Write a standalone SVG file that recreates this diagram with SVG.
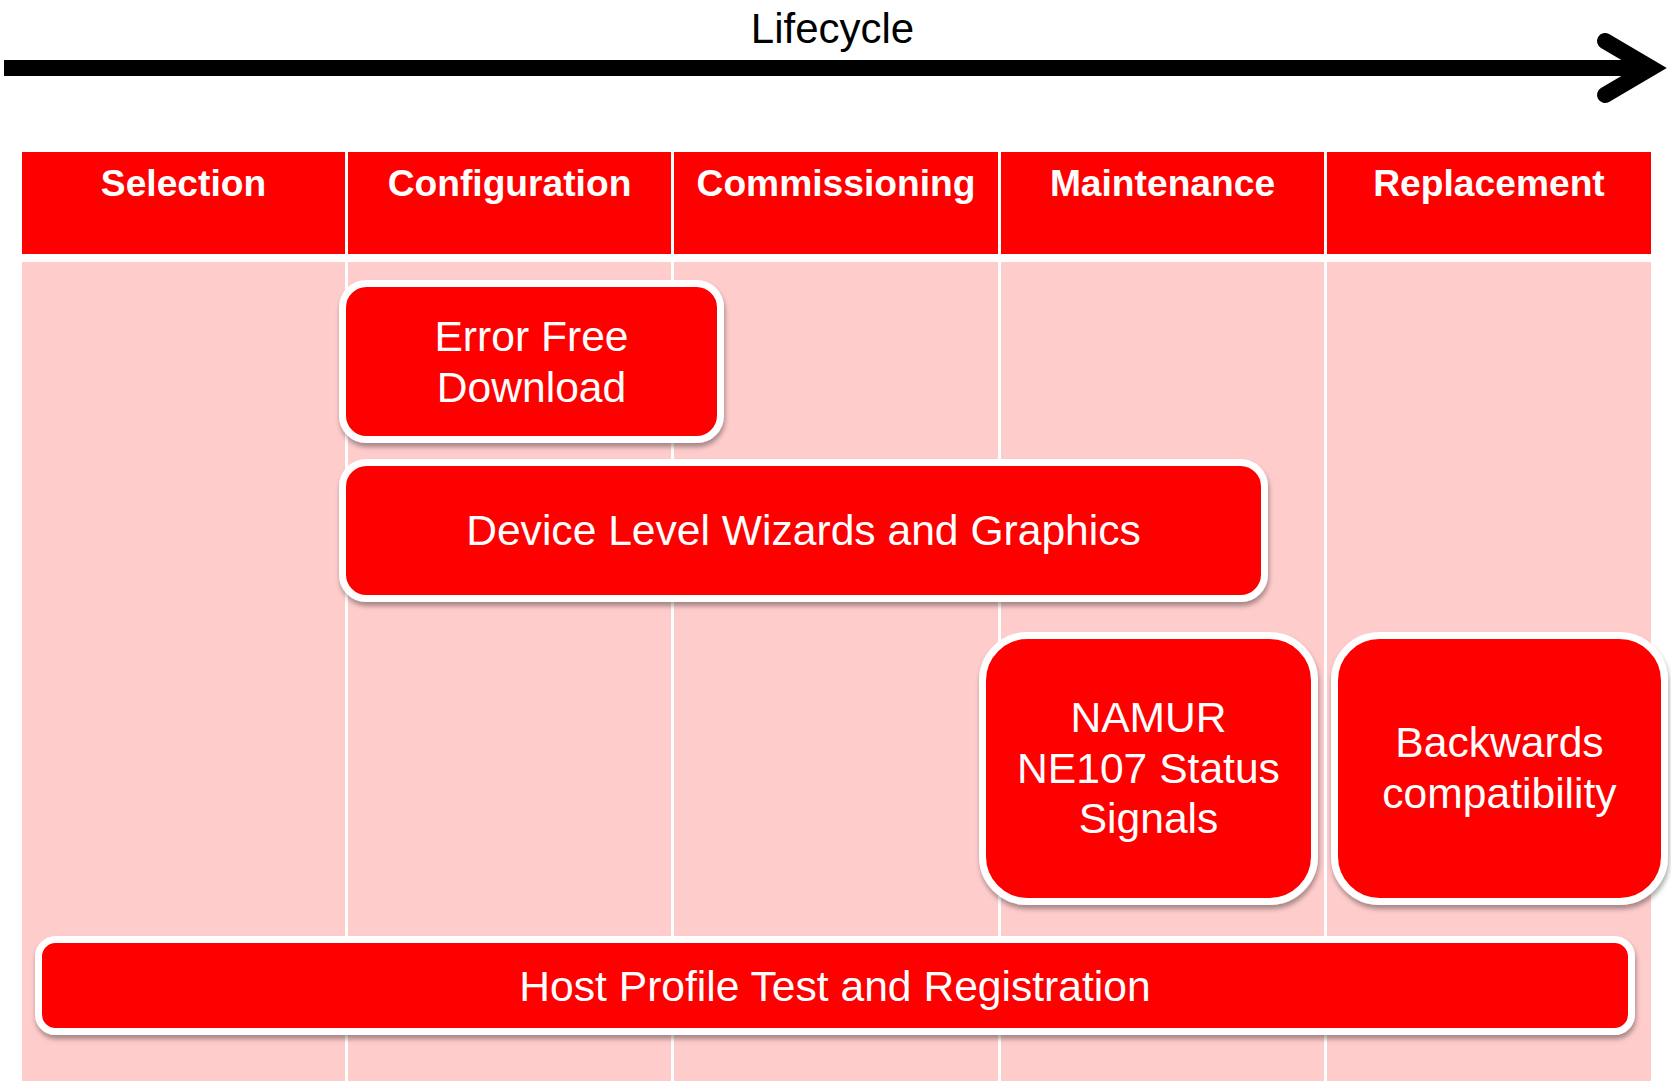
<svg xmlns="http://www.w3.org/2000/svg" width="1671" height="1081" viewBox="0 0 1671 1081">
  <style>
    .hdr { fill: #FF0000; }
    .lane { fill: #FFCCCC; }
    .hdrText { font-family: "Liberation Sans", Arial, sans-serif; font-weight: bold; font-size: 37.2px; fill: #FFFFFF; text-anchor: middle; }
    .box { fill: #FF0000; stroke: #FFFFFF; stroke-width: 7; filter: url(#shadow); }
    .boxText { font-family: "Liberation Sans", Arial, sans-serif; font-size: 42.6px; fill: #FFFFFF; text-anchor: middle; }
    .title { font-family: "Liberation Sans", Arial, sans-serif; font-size: 42px; fill: #000000; text-anchor: middle; }
  </style>
  <defs>
    <filter id="shadow" x="-10%" y="-20%" width="120%" height="150%">
      <feDropShadow dx="1" dy="4" stdDeviation="2.5" flood-color="#000000" flood-opacity="0.35"/>
    </filter>
  </defs>
  <rect x="0" y="0" width="1671" height="1081" fill="#FFFFFF"/>

  <g id="lifecycle-axis">
    <text class="title" x="832.5" y="43">Lifecycle</text>
    <line x1="4" y1="68" x2="1651" y2="68" stroke="#000000" stroke-width="16"/>
    <polyline points="1605,41 1651,68 1605,95" fill="none" stroke="#000000" stroke-width="16" stroke-linecap="round" stroke-linejoin="miter"/>
  </g>

  <g id="lanes">
    <rect class="lane" x="22" y="262" width="323" height="819"/>
    <rect class="lane" x="348" y="262" width="323" height="819"/>
    <rect class="lane" x="674" y="262" width="324" height="819"/>
    <rect class="lane" x="1001" y="262" width="323" height="819"/>
    <rect class="lane" x="1327" y="262" width="324" height="819"/>
  </g>

  <g id="header-selection">
    <rect class="hdr" x="22" y="152" width="323" height="102"/>
    <text class="hdrText" x="183.5" y="196">Selection</text>
  </g>
  <g id="header-configuration">
    <rect class="hdr" x="348" y="152" width="323" height="102"/>
    <text class="hdrText" x="509.5" y="196">Configuration</text>
  </g>
  <g id="header-commissioning">
    <rect class="hdr" x="674" y="152" width="324" height="102"/>
    <text class="hdrText" x="836" y="196">Commissioning</text>
  </g>
  <g id="header-maintenance">
    <rect class="hdr" x="1001" y="152" width="323" height="102"/>
    <text class="hdrText" x="1162.5" y="196">Maintenance</text>
  </g>
  <g id="header-replacement">
    <rect class="hdr" x="1327" y="152" width="324" height="102"/>
    <text class="hdrText" x="1489" y="196">Replacement</text>
  </g>

  <g id="node-error-free-download">
    <rect class="box" x="342.5" y="283.5" width="378" height="156" rx="24" ry="24"/>
    <text class="boxText" x="531.5" y="351">Error Free</text>
    <text class="boxText" x="531.5" y="402">Download</text>
  </g>

  <g id="node-device-level-wizards">
    <rect class="box" x="342.5" y="462.5" width="922" height="136" rx="24" ry="24"/>
    <text class="boxText" x="803.5" y="545">Device Level Wizards and Graphics</text>
  </g>

  <g id="node-namur-ne107">
    <rect class="box" x="982.5" y="635.5" width="332" height="266" rx="45" ry="45"/>
    <text class="boxText" x="1148.5" y="732">NAMUR</text>
    <text class="boxText" x="1148.5" y="783">NE107 Status</text>
    <text class="boxText" x="1148.5" y="833">Signals</text>
  </g>

  <g id="node-backwards-compatibility">
    <rect class="box" x="1334.5" y="635.5" width="330" height="266" rx="45" ry="45"/>
    <text class="boxText" x="1499.5" y="757">Backwards</text>
    <text class="boxText" x="1499.5" y="808">compatibility</text>
  </g>

  <g id="node-host-profile-test">
    <rect class="box" x="38.5" y="939.5" width="1593" height="92" rx="17" ry="17"/>
    <text class="boxText" x="835" y="1001">Host Profile Test and Registration</text>
  </g>

  <g id="connectors"></g>
</svg>
